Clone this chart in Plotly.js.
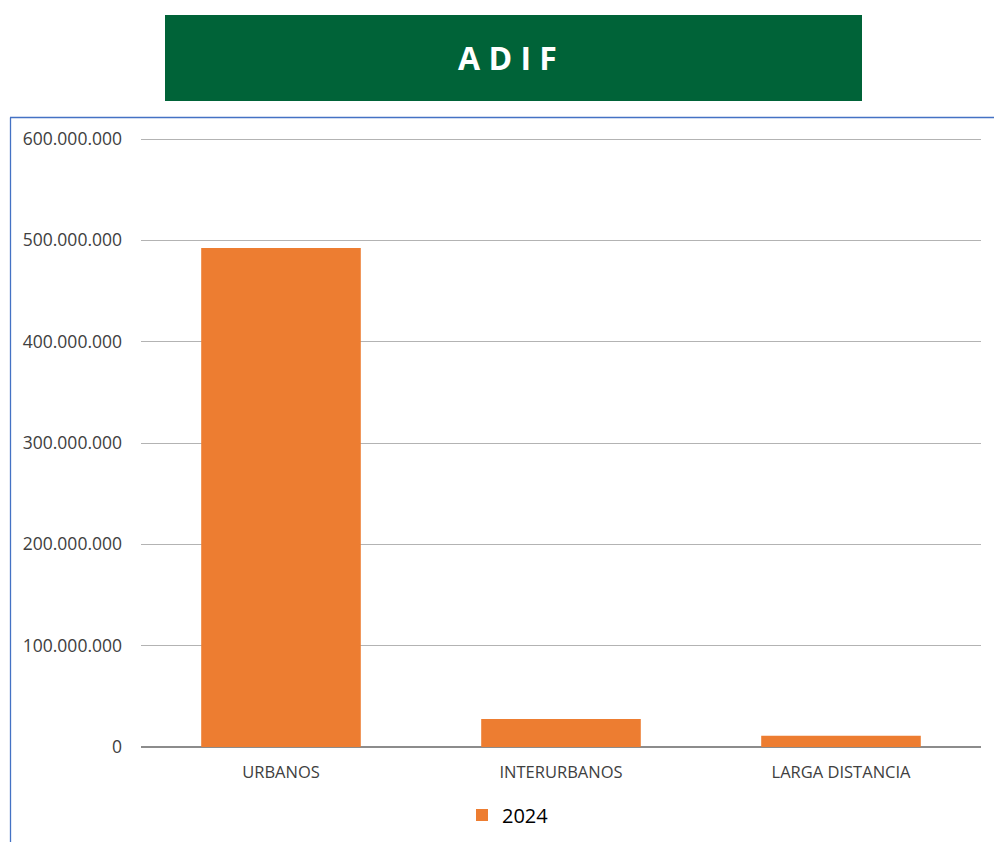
<!DOCTYPE html>
<html>
<head>
<meta charset="utf-8">
<script src="https://cdn.plot.ly/plotly-3.0.1.min.js"></script>
<style>html,body{margin:0;padding:0;background:#fff;}#chart{width:994px;height:842px;}</style>
</head>
<body>
<div id="chart"></div>
<script>
const categories = ["URBANOS", "INTERURBANOS", "LARGA DISTANCIA"];
const values2024 = [492500000, 27600000, 11200000];
const seriesName = "2024";
const titleText = "A D I F";

const W = 994, H = 842;
const mL = 141, mR = 13, mT = 137, mB = 95;
const pw = W - mL - mR, ph = H - mT - mB;
const px = x => (x - mL) / pw;
const py = y => (H - mB - y) / ph;
const yTop = 600000000 * ph / (ph - 2);

const trace = {
  type: "bar",
  x: categories,
  y: values2024,
  name: seriesName,
  marker: {color: "#ED7D31"},
  hoverinfo: "x+y"
};

const layout = {
  width: W, height: H,
  margin: {l: mL, r: mR, t: mT, b: mB, pad: 0, autoexpand: false},
  paper_bgcolor: "#ffffff",
  plot_bgcolor: "#ffffff",
  separators: ",.",
  bargap: 0.43,
  font: {family: "Open Sans, Noto Sans, sans-serif", color: "#404040"},
  xaxis: {
    type: "category",
    range: [-0.5, 2.5],
    showgrid: false,
    showline: false,
    zeroline: false,
    ticks: "",
    automargin: false,
    tickfont: {size: 16.5, color: "#404040"},
    ticklabelstandoff: 13
  },
  yaxis: {
    range: [0, yTop],
    tickvals: [0, 100000000, 200000000, 300000000, 400000000, 500000000, 600000000],
    tickformat: ",d",
    showgrid: true,
    gridcolor: "#b3b3b3",
    gridwidth: 1,
    zeroline: true,
    zerolinecolor: "#8c8c8c",
    zerolinewidth: 1.5,
    showline: false,
    ticks: "",
    automargin: false,
    tickfont: {size: 17.5, color: "#404040"},
    ticklabelstandoff: 18
  },
  showlegend: true,
  legend: {
    orientation: "h",
    xref: "container", yref: "container",
    x: 508 / W, xanchor: "center",
    y: 1 - 815 / H, yanchor: "middle",
    font: {size: 20, color: "#000000"},
    itemwidth: 30,
    bgcolor: "rgba(0,0,0,0)"
  },
  shapes: [
    {type: "rect", xref: "paper", yref: "paper",
     x0: px(165), x1: px(862), y0: py(101), y1: py(15),
     fillcolor: "#006338", line: {width: 0}, layer: "above"},
    {type: "line", xref: "paper", yref: "paper",
     x0: px(10), x1: px(994), y0: py(117.5), y1: py(117.5),
     line: {color: "#4472C4", width: 1.3}},
    {type: "line", xref: "paper", yref: "paper",
     x0: px(10.5), x1: px(10.5), y0: py(117.5), y1: py(842),
     line: {color: "#4472C4", width: 1.3}}
  ],
  annotations: [
    {xref: "paper", yref: "paper", x: px(507), y: py(57),
     xanchor: "center", yanchor: "middle", showarrow: false,
     text: "<b>" + titleText + "</b>",
     font: {family: "Open Sans, sans-serif", size: 32, color: "#ffffff"}}
  ]
};

Plotly.newPlot("chart", [trace], layout, {displayModeBar: false, staticPlot: true});
</script>
</body>
</html>
